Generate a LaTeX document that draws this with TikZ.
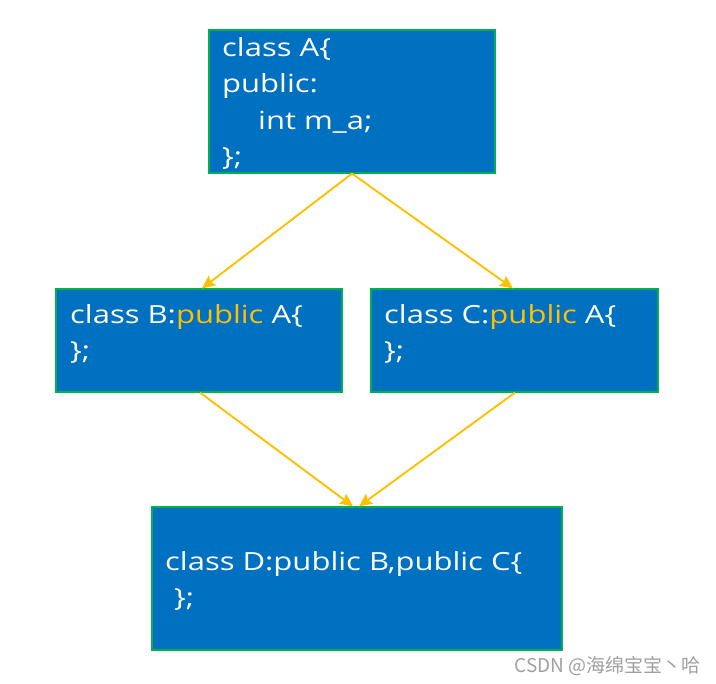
\documentclass[tikz,border=0pt]{standalone}
\usepackage{fontspec}
\setmainfont[FakeStretch=1.24]{Open Sans}
\newfontfamily\cjk{Noto Sans CJK SC}
\usetikzlibrary{arrows.meta}
\definecolor{boxblue}{HTML}{0070C0}
\definecolor{boxgreen}{HTML}{00B050}
\definecolor{arryellow}{HTML}{FFC000}
\definecolor{wmgray}{HTML}{A0A0A0}
\tikzset{
  box/.style={draw=boxgreen, line width=1.2pt, fill=boxblue, inner sep=0pt},
  txt/.style={text=white, align=left, inner sep=0pt, anchor=north west,
    font=\fontsize{25}{36.5}\selectfont},
  arr/.style={draw=arryellow, line width=1.9pt,
    -{Stealth[length=13pt,width=12pt,inset=2pt]}},
}
\begin{document}
\begin{tikzpicture}[x=1pt,y=-1pt]
\useasboundingbox (0,0) rectangle (716,684);
\fill[white] (0,0) rectangle (716,684);
\node[box, minimum width=286pt, minimum height=143pt] (A) at (352,101.5) {};
\node[box, minimum width=286pt, minimum height=103pt] (B) at (199,340.5) {};
\node[box, minimum width=287pt, minimum height=103pt] (C) at (514.5,340.5) {};
\node[box, minimum width=410pt, minimum height=143pt] (D) at (357,578.5) {};
\node[txt] (At) at (222,37) {class A\{\\public:\\\hspace*{36pt}int m\_a;\\\};};
\node[txt] (Bt) at (70,304) {class B:\textcolor{arryellow}{public} A\{\\\};};
\node[txt] (Ct) at (384,304) {class C:\textcolor{arryellow}{public} A\{\\\};};
\node[txt] (Dt) at (165,551) {class D:public B,public C\{\\\hspace*{9pt}\};};
\draw[arr] (A.south) -- ([xshift=3pt]B.north);
\draw[arr] (A.south) -- ([xshift=-1.5pt]C.north);
\draw[arr] ([xshift=1pt]B.south) -- ([xshift=-4pt]D.north);
\draw[arr] ([xshift=0.5pt]C.south) -- ([xshift=2pt]D.north);
\node[anchor=base east, text=wmgray, inner sep=0pt, font=\fontsize{19}{21}\selectfont] (wm) at (701,673) {\cjk CSDN @海绵宝宝丶哈};
\end{tikzpicture}
\end{document}
